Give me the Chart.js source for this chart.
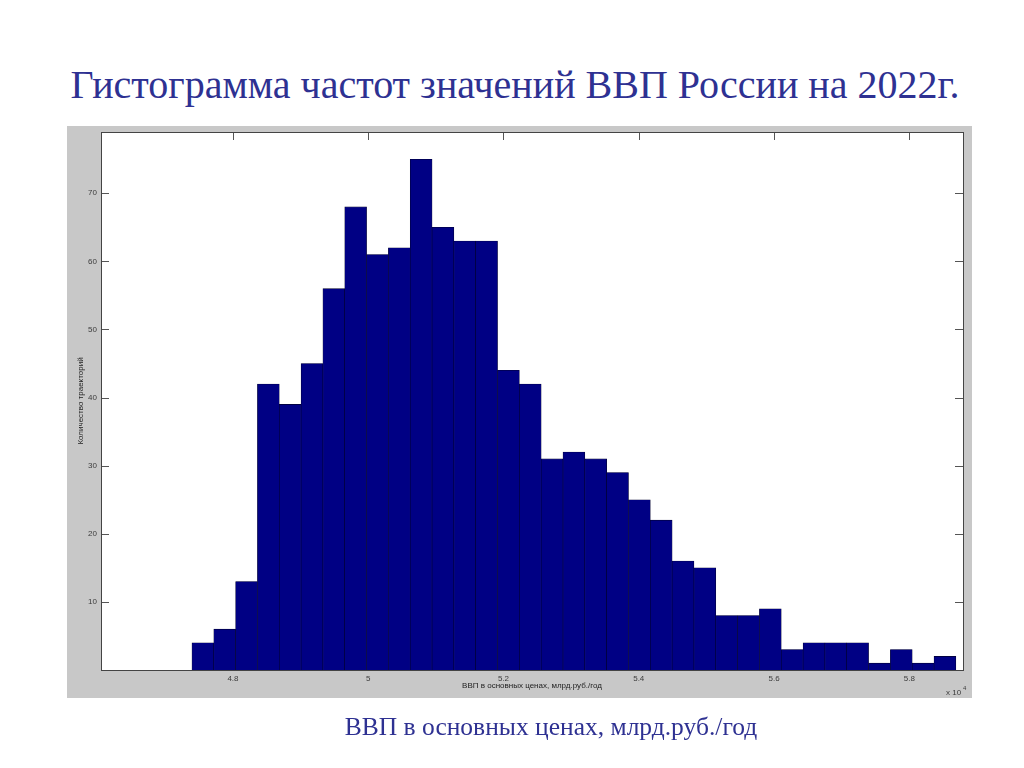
<!DOCTYPE html>
<html>
<head>
<meta charset="utf-8">
<script src="https://cdn.jsdelivr.net/npm/chart.js@4.4.1/dist/chart.umd.min.js"></script>
<style>
  body { margin: 0; background: #fff; }
  #slide { position: relative; width: 1024px; height: 768px; overflow: hidden; }
  .head {
    position: absolute; width: 1024px; text-align: center;
    font-family: "Liberation Serif", "Times New Roman", serif; color: #2e3192;
    white-space: nowrap;
  }
  #title { left: 3px; top: 65px; font-size: 40px; line-height: 40px; }
  #caption { left: 39px; top: 714px; font-size: 25.5px; line-height: 25.5px; }
  #panel { position: absolute; left: 67px; top: 126px; width: 905px; height: 572px; background: #c8c8c8; }
  #chart { position: absolute; left: 0; top: 0; }
</style>
</head>
<body>
<div id="slide">
  <div id="title" class="head">Гистограмма частот значений ВВП России на 2022г.</div>
  <div id="panel"></div>
  <canvas id="chart" width="1024" height="768"></canvas>
  <div id="caption" class="head">ВВП в основных ценах, млрд.руб./год</div>
</div>
<script>
// histogram counts (number of trajectories per bin)
const counts = [4, 6, 13, 42, 39, 45, 56, 68, 61, 62, 75, 65, 63, 63, 44, 42, 31, 32,
  31, 29, 25, 22, 16, 15, 8, 8, 9, 3, 4, 4, 4, 1, 3, 1, 2];
// bins: left edge and width, in units of 10^4 bln rub
const binStart = 4.7394;
const binWidth = 0.03227;
const xTicks = [4.8, 5, 5.2, 5.4, 5.6, 5.8];
const yTicks = [10, 20, 30, 40, 50, 60, 70];
const xRange = [4.6049, 5.8794];
const yRange = [0, 79];

const binCenters = counts.map((c, i) => binStart + binWidth * (i + 0.5));
const points = counts.map((c, i) => ({ x: binCenters[i], y: c }));

const axisFont = { family: "'Liberation Sans', Arial, sans-serif", size: 8 };
const textColor = "#3c3c3c";

// white plot box, inward ticks on all four sides, frame
const matlabAxes = {
  id: "matlabAxes",
  beforeDatasetsDraw(chart) {
    const { ctx, chartArea: a, scales } = chart;
    ctx.save();
    ctx.strokeStyle = "#555";
    ctx.lineWidth = 1;
    ctx.beginPath();
    yTicks.forEach((v) => {
      const y = Math.round(scales.y.getPixelForValue(v)) + 0.5;
      ctx.moveTo(a.left, y); ctx.lineTo(a.left + 8, y);
      ctx.moveTo(a.right, y); ctx.lineTo(a.right - 8, y);
    });
    xTicks.forEach((v) => {
      const x = Math.round(scales.x.getPixelForValue(v)) + 0.5;
      ctx.moveTo(x, a.top); ctx.lineTo(x, a.top + 8);
      ctx.moveTo(x, a.bottom); ctx.lineTo(x, a.bottom - 8);
    });
    ctx.stroke();
    ctx.restore();
  },
  beforeDraw(chart) {
    const { ctx, chartArea: a } = chart;
    ctx.save();
    ctx.fillStyle = "#fff";
    ctx.fillRect(a.left, a.top, a.right - a.left, a.bottom - a.top);
    ctx.restore();
  },
  afterDraw(chart) {
    const { ctx, chartArea: a } = chart;
    ctx.save();
    ctx.strokeStyle = "#444";
    ctx.lineWidth = 1;
    ctx.strokeRect(Math.round(a.left) + 0.5, Math.round(a.top) + 0.5,
      Math.round(a.right - a.left), Math.round(a.bottom - a.top));
    // exponent label
    ctx.fillStyle = textColor;
    ctx.font = "8px 'Liberation Sans', Arial, sans-serif";
    ctx.textBaseline = "alphabetic";
    ctx.textAlign = "left";
    ctx.fillText("x 10", 946, 695);
    ctx.font = "6px 'Liberation Sans', Arial, sans-serif";
    ctx.fillText("4", 963, 690);
    ctx.restore();
  }
};

new Chart(document.getElementById("chart"), {
  type: "bar",
  data: {
    datasets: [{
      data: points,
      backgroundColor: "#000084",
      borderColor: "#00002e",
      borderWidth: 0.6,
      barPercentage: 1,
      categoryPercentage: 1
    }]
  },
  options: {
    responsive: false,
    animation: false,
    events: [],
    layout: { padding: { left: 68, right: 61, top: 132, bottom: 68 } },
    plugins: { legend: { display: false }, tooltip: { enabled: false } },
    scales: {
      x: {
        type: "linear",
        offset: false,
        min: xRange[0],
        max: xRange[1],
        grid: { display: false, drawTicks: false, offset: false },
        border: { display: false },
        afterFit: (s) => { s.height = 30; },
        afterBuildTicks: (s) => { s.ticks = xTicks.map((v) => ({ value: v })); },
        ticks: { font: axisFont, color: textColor, padding: 4, maxRotation: 0,
          callback: (v) => String(v) },
        title: { display: true, text: "ВВП в основных ценах, млрд.руб./год",
          font: axisFont, color: "#222", padding: { top: 0, bottom: 9 } }
      },
      y: {
        min: yRange[0],
        max: yRange[1],
        grid: { display: false, drawTicks: false },
        border: { display: false },
        afterFit: (s) => { s.width = 33; },
        afterBuildTicks: (s) => { s.ticks = yTicks.map((v) => ({ value: v })); },
        ticks: { font: axisFont, color: textColor, padding: 4 },
        title: { display: true, text: "Количество траекторий",
          font: axisFont, color: "#222", padding: { top: 8, bottom: 0 } }
      }
    }
  },
  plugins: [matlabAxes]
});
</script>
</body>
</html>
